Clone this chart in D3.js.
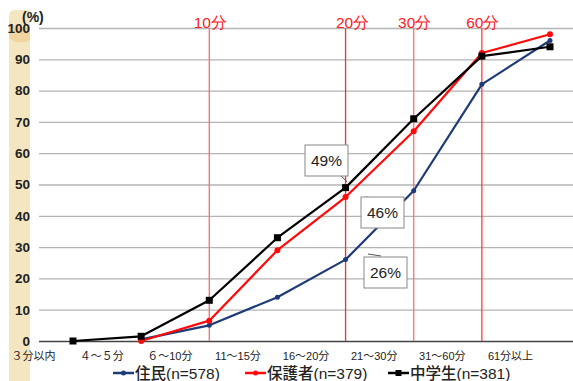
<!DOCTYPE html>
<html>
<head>
<meta charset="utf-8">
<script src="https://cdn.jsdelivr.net/npm/d3@7"></script>
<style>
  html, body { margin: 0; padding: 0; background: #fff; }
  svg { display: block; }
  .num { font-family: "Liberation Sans Narrow", "Liberation Sans", Arial, sans-serif; }
  .jp { font-family: "Liberation Sans", "Noto Sans CJK JP", sans-serif; }
</style>
</head>
<body>
<svg id="chart" width="573" height="381"></svg>
<script>
// Travel-time categories (cumulative share reached by each bound)
const categories = ["３分以内", "４～５分", "６～10分", "11～15分", "16～20分", "21～30分", "31～60分", "61分以上"];
// Cumulative percentages per respondent group
const residents = [null, 0.5, 5, 14, 26, 48, 82, 96];   // 住民
const guardians = [null, 0, 6.5, 29, 46, 67, 92, 98];   // 保護者
const students  = [0, 1.5, 13, 33, 49, 71, 91, 94];     // 中学生
const seriesNames = ["住民(n=578)", "保護者(n=379)", "中学生(n=381)"];
const yTicks = [0, 10, 20, 30, 40, 50, 60, 70, 80, 90, 100];
// Reference lines: label and category index they sit on
const refLabels = ["10分", "20分", "30分", "60分"];
const refIndex = [2, 4, 5, 6];
// Callouts: value text, series, category index
const calloutText = ["49%", "46%", "26%"];
const calloutIndex = [4, 4, 4];

const svg = d3.select("#chart");
const plotLeft = 39, plotRight = 573, plotTop = 28, plotBottom = 341;

const x = d3.scaleLinear().domain([0, categories.length - 1]).range([73, 550]);
const y = d3.scaleLinear().domain([0, 100]).range([plotBottom, plotTop]);

// Decorative beige band behind the value axis
const band = svg.append("g");
band.append("path")
  .attr("d", "M9,381 L9,16 Q9,10 15,10 L30,10 L30,381 Z")
  .attr("fill", "#f5e6c2");
band.append("path")
  .attr("d", "M9,22 Q19,30 30,26 L30,40 Q19,46 9,38 Z")
  .attr("fill", "#efd49a").attr("opacity", 0.9);

// Grid lines and value labels
const yAxis = d3.axisLeft(y).tickValues(yTicks).tickSize(-(plotRight - plotLeft)).tickPadding(9);
const gy = svg.append("g").attr("transform", `translate(${plotLeft},0)`).call(yAxis);
gy.select(".domain").remove();
gy.selectAll(".tick line").attr("stroke", "#b4b4b4").attr("stroke-width", 1.3);
gy.selectAll(".tick").filter(d => d === 0).select("line").attr("stroke", "#444").attr("stroke-width", 1.3);
gy.selectAll(".tick text")
  .attr("class", "num").attr("font-size", 13.5).attr("font-weight", "bold").attr("fill", "#222");

svg.append("text").attr("class", "num").attr("x", 22).attr("y", 22)
  .attr("font-size", 14).attr("font-weight", "bold").attr("fill", "#222").text("(%)");

// Category labels, centred between bounds
const gx = svg.append("g").attr("transform", `translate(0,${plotBottom})`)
  .call(d3.axisBottom(x).tickValues(d3.range(categories.length)).tickSize(0).tickFormat(i => categories[i]));
gx.select(".domain").remove();
gx.selectAll(".tick text")
  .attr("class", "jp").attr("font-size", 11).attr("fill", "#222")
  .attr("dx", -40).attr("dy", 15.5);

// Red reference lines
const refColors = ["#ff6b6b", "#ff2a2a", "#ff7070", "#ff3a3a"];
refIndex.forEach((ci, k) => {
  svg.append("line")
    .attr("x1", x(ci)).attr("x2", x(ci))
    .attr("y1", plotTop).attr("y2", plotBottom)
    .attr("stroke", refColors[k]).attr("stroke-width", 1.3);
  svg.append("text").attr("class", "num")
    .attr("x", x(ci) + (k === 1 ? 7 : 1)).attr("y", 28)
    .attr("text-anchor", "middle").attr("font-size", 15.5).attr("fill", "#ff2020")
    .text(refLabels[k]);
});

// Series
const series = [
  { name: seriesNames[0], values: residents, color: "#1f3a78", marker: "circle", r: 2.5 },
  { name: seriesNames[1], values: guardians, color: "#ff0a0a", marker: "circle", r: 3 },
  { name: seriesNames[2], values: students, color: "#000000", marker: "square", r: 3.5 }
];

const line = d3.line()
  .defined(d => d != null)
  .x((d, i) => x(i)).y(d => y(d));

series.forEach(s => {
  svg.append("path").datum(s.values)
    .attr("d", line).attr("fill", "none")
    .attr("stroke", s.color).attr("stroke-width", 2.2).attr("stroke-linejoin", "round");
  const pts = s.values.map((v, i) => ({ v, i })).filter(d => d.v != null);
  if (s.marker === "square") {
    svg.selectAll(null).data(pts).enter().append("rect")
      .attr("x", d => x(d.i) - s.r).attr("y", d => y(d.v) - s.r)
      .attr("width", s.r * 2).attr("height", s.r * 2).attr("fill", s.color);
  } else {
    svg.selectAll(null).data(pts).enter().append("circle")
      .attr("cx", d => x(d.i)).attr("cy", d => y(d.v)).attr("r", s.r).attr("fill", s.color);
  }
});

// Callout boxes
const calloutSeries = [students, guardians, residents];
const boxes = [
  { bx: 305, by: 145, tail: [[340, 175], [347, y(calloutSeries[0][calloutIndex[0]]) - 6]] },
  { bx: 361, by: 197, tail: [[366, 197], [380, 199]] },
  { bx: 364, by: 257, tail: [[368, 254], [381, 256]] }
];
boxes.forEach((b, k) => {
  svg.append("path").attr("d", d3.line()(b.tail))
    .attr("stroke", "#555").attr("stroke-width", 1).attr("fill", "none");
  svg.append("rect").attr("x", b.bx).attr("y", b.by).attr("width", 43).attr("height", 31)
    .attr("fill", "#fff").attr("stroke", "#888").attr("stroke-width", 1);
  svg.append("text").attr("class", "num")
    .attr("x", b.bx + 21.5).attr("y", b.by + 21)
    .attr("text-anchor", "middle").attr("font-size", 15.5).attr("fill", "#222")
    .text(calloutText[k]);
});

// Legend
const legendX = [113, 245, 388];
series.forEach((s, k) => {
  const g = svg.append("g").attr("transform", `translate(${legendX[k]},373)`);
  g.append("line").attr("x1", 0).attr("x2", 21).attr("stroke", s.color).attr("stroke-width", 2.5);
  if (s.marker === "square") {
    g.append("rect").attr("x", 7.5).attr("y", -3).attr("width", 6).attr("height", 6).attr("fill", s.color);
  } else {
    g.append("circle").attr("cx", 10.5).attr("r", 2.5).attr("fill", s.color);
  }
  g.append("text").attr("class", "jp").attr("x", 22).attr("y", 5.5)
    .attr("font-size", 15.5).attr("font-weight", 500).attr("fill", "#222").text(s.name);
});
</script>
</body>
</html>
